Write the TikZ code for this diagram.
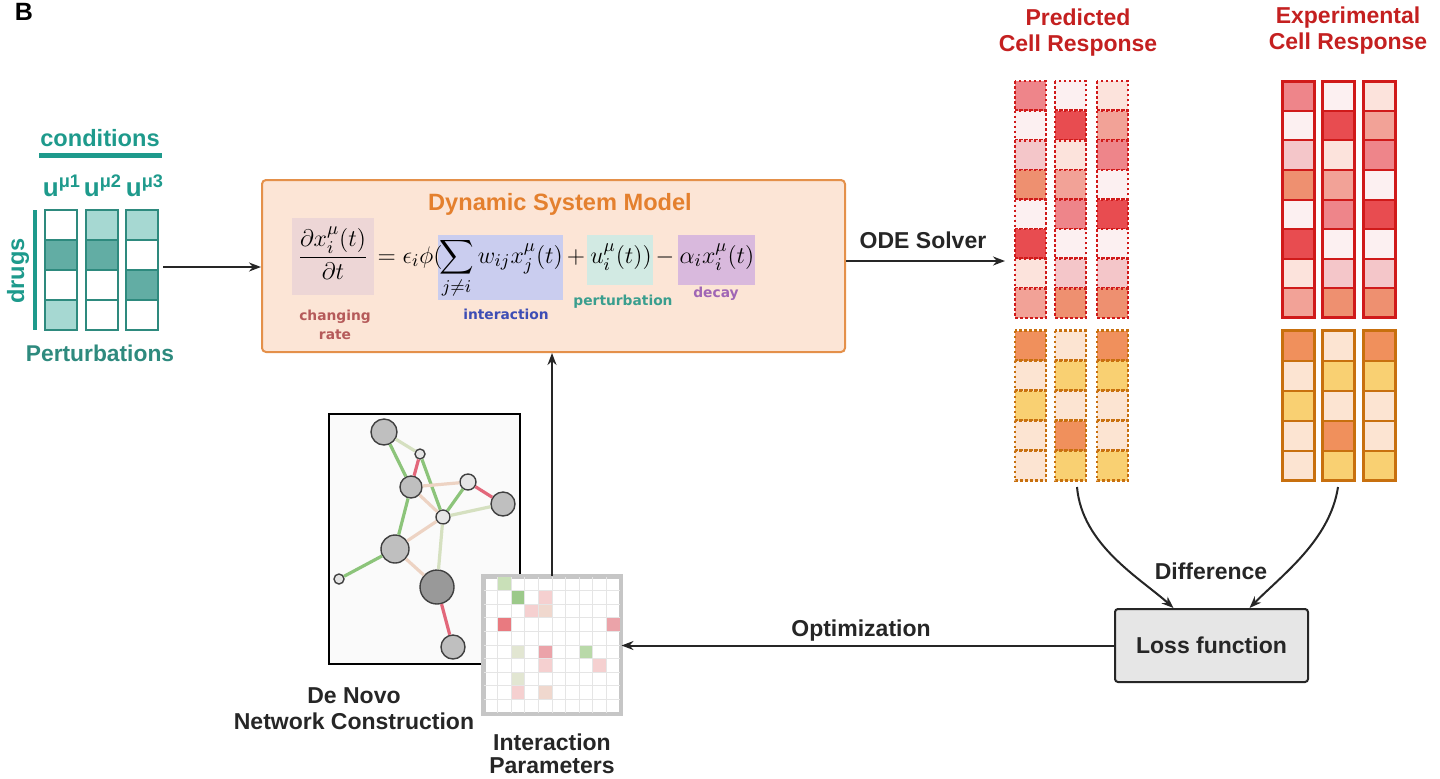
\documentclass[tikz,border=0pt]{standalone}
\usepackage[no-math]{fontspec}
\setmainfont{Liberation Sans}
\newfontfamily\labelfont{DejaVu Sans}
\usepackage{amsmath}
\usetikzlibrary{arrows.meta}

\definecolor{darktext}{HTML}{262626}
\definecolor{tealtext}{HTML}{1E9A8C}
\definecolor{tealdark}{HTML}{2E8A7E}
\definecolor{tealfill}{HTML}{62ADA4}
\definecolor{teallight}{HTML}{A6D8D2}
\definecolor{dsmfill}{HTML}{FCE5D6}
\definecolor{dsmline}{HTML}{E4904A}
\definecolor{dsmtitle}{HTML}{E4802E}
\definecolor{ratebg}{HTML}{EDD6D6}
\definecolor{interbg}{HTML}{CACDEF}
\definecolor{pertbg}{HTML}{D2EAE3}
\definecolor{decaybg}{HTML}{D9B9DD}
\definecolor{ratetext}{HTML}{B55A5A}
\definecolor{intertext}{HTML}{3D4DB5}
\definecolor{perttext}{HTML}{3A9E8E}
\definecolor{decaytext}{HTML}{A066B5}
\definecolor{resptext}{HTML}{C42020}
\definecolor{redline}{HTML}{D01A1A}
\definecolor{orline}{HTML}{C8700E}
\definecolor{lossfill}{HTML}{E6E6E6}
\definecolor{pk}{HTML}{EE858A}
\definecolor{vp}{HTML}{FCF0F1}
\definecolor{lp}{HTML}{F4C6C9}
\definecolor{sa}{HTML}{EE9070}
\definecolor{rd}{HTML}{E84C50}
\definecolor{pa}{HTML}{FCE3DC}
\definecolor{ls}{HTML}{F2A297}
\definecolor{or}{HTML}{F0905C}
\definecolor{pe}{HTML}{FCE4D2}
\definecolor{ye}{HTML}{F9D072}
\definecolor{eg}{HTML}{8CC47A}
\definecolor{egl}{HTML}{D5E0C0}
\definecolor{er}{HTML}{E2677A}
\definecolor{eb}{HTML}{EDD3C3}
\definecolor{mgl}{HTML}{C9E0B8}
\definecolor{mg}{HTML}{9CC98A}
\definecolor{mgm}{HTML}{B9D9A9}
\definecolor{mpl}{HTML}{F5D0D0}
\definecolor{mbe}{HTML}{F0D8CE}
\definecolor{mr}{HTML}{E97A80}
\definecolor{mrl}{HTML}{EBA3A9}
\definecolor{mol}{HTML}{E2E6D2}

\begin{document}
\begin{tikzpicture}[x=0.5pt,y=-0.5pt,
	lbl/.style={font=\fontsize{11.5}{13}\selectfont\bfseries, text=darktext, align=center},
	resp/.style={font=\fontsize{11.5}{13}\selectfont\bfseries, text=resptext, align=center},
	arr/.style={line width=1pt, darktext, -{Stealth[length=6pt,width=4.5pt]}},
	tag/.style={font=\labelfont\bfseries\fontsize{6.9}{9.5}\selectfont, align=center},
	eqn/.style={anchor=base, inner sep=0pt, font=\fontsize{12.5}{15}\selectfont},
	pcell/.style={draw=tealdark, line width=1pt},
	dots/.style={line width=1.3pt, dash pattern=on 1.3pt off 1.2pt},
	netnode/.style={circle, draw=black!75, line width=0.7pt, inner sep=0pt},
	link/.style={line width=1.6pt}]
\useasboundingbox (0,0) rectangle (1440,778);

\node[font=\fontsize{12.5}{15}\selectfont\bfseries] (panel) at (24,12) {B};

\node[text=tealtext, font=\fontsize{11.8}{14}\selectfont\bfseries] (cond) at (100,138) {conditions};
\draw[tealtext, line width=2.5pt] (39,155) -- (162,155);
\foreach \x/\k in {62/1,103/2,145/3}
	\node[text=tealtext, font=\fontsize{13}{15}\selectfont\bfseries] (u\k) at (\x,186) {u\textsuperscript{μ\k}};
\draw[tealtext, line width=2.2pt] (35,210) -- (35,330);
\node[rotate=90, text=tealtext, font=\fontsize{11.8}{14}\selectfont\bfseries] (drugs) at (18,271) {drugs};
\foreach \x/\cl in {45/{white,tealfill,white,teallight}, 86/{teallight,tealfill,white,white}, 126/{teallight,white,tealfill,white}} {
	\foreach \c [count=\r] in \cl
		\filldraw[pcell, fill=\c] (\x,{180+30*\r}) rectangle ++(32,30);
	\draw[tealdark, line width=1.2pt] (\x,210) rectangle ++(32,120);
}
\node[text=tealdark, font=\fontsize{11.4}{13}\selectfont\bfseries] (perts) at (100,353) {Perturbations};
\coordinate (pout) at (163,267);

\node[draw=dsmline, fill=dsmfill, line width=1pt, rounded corners=2pt, minimum width=291.5pt, minimum height=86pt] (dsm) at (553.5,266) {};
\node[text=dsmtitle, font=\fontsize{11.8}{14}\selectfont\bfseries] (dsmname) at (560,204) {Dynamic System Model};
\fill[ratebg] (292,218) rectangle (374,295);
\fill[interbg] (438,235) rectangle (563,300);
\fill[pertbg] (587,235) rectangle (653,285);
\fill[decaybg] (678,235) rectangle (755,285);
\node[eqn] (lhs) at (333,263) {$\dfrac{\partial x_i^\mu(t)}{\partial t}$};
\node[eqn] (eq) at (410,263) {$=\epsilon_i\phi($};
\node[eqn] (sum) at (501,263) {$\displaystyle\sum_{j\neq i} w_{ij}x_j^\mu(t)$};
\node[eqn] (plus) at (576,263) {$+$};
\node[eqn] (pert) at (621,263) {$u_i^\mu(t))$};
\node[eqn] (minus) at (665,263) {$-$};
\node[eqn] (decay) at (717,263) {$\alpha_i x_i^\mu(t)$};
\node[tag, text=ratetext] (ratelbl) at (335,325) {changing\\rate};
\node[tag, text=intertext] (interlbl) at (506,314) {interaction};
\node[tag, text=perttext] (pertlbl) at (623,302) {perturbation};
\node[tag, text=decaytext] (decaylbl) at (716,294) {decay};
\draw[arr] (pout) -- (pout -| dsm.west);

\node[lbl] (ode) at (923,240) {ODE Solver};
\coordinate (predin) at (1005,261);
\draw[arr] (dsm.east |- predin) -- (predin);

\node[resp] (predtitle) at (1078,33) {Predicted\\Cell Response};
\node[resp] (exptitle) at (1348,31) {Experimental\\Cell Response};
\foreach \x/\cl in {1015/{pk,vp,lp,sa,vp,rd,pa,ls}, 1055/{vp,rd,pa,ls,pk,vp,lp,sa}, 1097/{pa,ls,pk,vp,rd,vp,lp,sa}}
	\foreach \c [count=\r] in \cl
		\filldraw[fill=\c, draw=redline, dots] (\x,{51.5+29.6*\r}) rectangle ++(31,29.6);
\foreach \x/\cl in {1015/{or,pe,ye,pe,pe}, 1055/{pe,ye,pe,or,ye}, 1097/{or,ye,pe,pe,ye}}
	\foreach \c [count=\r] in \cl
		\filldraw[fill=\c, draw=orline, dots] (\x,{300.5+30*\r}) rectangle ++(31,30);
\foreach \x/\cl in {1282/{pk,vp,lp,sa,vp,rd,pa,ls}, 1322/{vp,rd,pa,ls,pk,vp,lp,sa}, 1363/{pa,ls,pk,vp,rd,vp,lp,sa}} {
	\foreach \c [count=\r] in \cl
		\filldraw[fill=\c, draw=redline, line width=1pt] (\x,{51.5+29.6*\r}) rectangle ++(32,29.6);
	\draw[redline, line width=1.5pt] (\x,81.1) rectangle ++(32,236.8);
}
\foreach \x/\cl in {1282/{or,pe,ye,pe,pe}, 1322/{pe,ye,pe,or,ye}, 1363/{or,ye,pe,pe,ye}} {
	\foreach \c [count=\r] in \cl
		\filldraw[fill=\c, draw=orline, line width=1pt] (\x,{300.5+30*\r}) rectangle ++(32,30);
	\draw[orline, line width=1.5pt] (\x,330.5) rectangle ++(32,150);
}
\coordinate (predout) at (1077,487);
\coordinate (exptout) at (1338,487);

\node[draw=darktext, fill=lossfill, line width=1pt, rounded corners=1.5pt, minimum width=96.5pt, minimum height=36.5pt, lbl] (loss) at (1211.5,645.5) {Loss function};
\draw[arr] (predout) .. controls (1082,545) and (1140,578) .. ([xshift=-19pt]loss.north);
\draw[arr] (exptout) .. controls (1330,540) and (1282,575) .. ([xshift=19pt]loss.north);
\node[lbl] (diff) at (1211,571) {Difference};

\node[draw=black, fill=gray!4, line width=0.8pt, minimum width=95.5pt, minimum height=125pt] (netbox) at (424.5,539) {};
\node[netnode, minimum size=13pt, fill=gray!50] (n1) at (384,432) {};
\node[netnode, minimum size=5pt, fill=gray!20] (n2) at (420,454) {};
\node[netnode, minimum size=11pt, fill=gray!50] (n3) at (411,487) {};
\node[netnode, minimum size=8pt, fill=gray!20] (n4) at (468,482) {};
\node[netnode, minimum size=12pt, fill=gray!50] (n5) at (503,504) {};
\node[netnode, minimum size=7pt, fill=gray!20] (n6) at (443,517) {};
\node[netnode, minimum size=14pt, fill=gray!50] (n7) at (395,549) {};
\node[netnode, minimum size=5pt, fill=gray!20] (n8) at (339,579) {};
\node[netnode, minimum size=17pt, fill=gray!80] (n9) at (437,587) {};
\node[netnode, minimum size=12pt, fill=gray!50] (n10) at (453,647) {};
\foreach \a/\b/\c in {n1/n2/egl, n1/n3/eg, n2/n3/er, n2/n6/eg, n3/n4/eb, n3/n6/eb, n3/n7/eg, n4/n5/er, n4/n6/eg, n5/n6/egl, n6/n7/eb, n6/n9/egl, n7/n8/eg, n7/n9/eb, n9/n10/er}
	\draw[link, \c] (\a) -- (\b);

\node[draw=gray!45, fill=white, line width=1.5pt, minimum size=68pt, inner sep=0pt] (params) at (552,645) {};
\foreach \i/\j/\c in {1/0/mgl, 2/1/mg, 4/1/mpl, 3/2/mpl, 4/2/mbe, 1/3/mr, 9/3/mrl, 2/5/mol, 4/5/mrl, 7/5/mgm, 4/6/mpl, 8/6/mpl, 2/7/mol, 2/8/mpl, 4/8/mbe}
	\fill[\c] ({484+13.6*\i},{577+13.6*\j}) rectangle ++(13.6,13.6);
\foreach \k in {1,...,9} {
	\draw[gray!20, line width=0.5pt] ({484+13.6*\k},577) -- ++(0,136);
	\draw[gray!20, line width=0.5pt] (484,{577+13.6*\k}) -- ++(136,0);
}
\draw[gray!45, line width=1.5pt] (params.north west) rectangle (params.south east);
\draw[arr] (params.north) -- (params.north |- dsm.south);
\node[lbl] (denovo) at (354,709) {De Novo\\Network Construction};
\node[lbl] (iplbl) at (552,754) {Interaction\\[-1.5pt]Parameters};

\node[lbl] (opt) at (861,631) {Optimization};
\draw[arr] (loss.west) -- (loss.west -| params.east);
\end{tikzpicture}
\end{document}
